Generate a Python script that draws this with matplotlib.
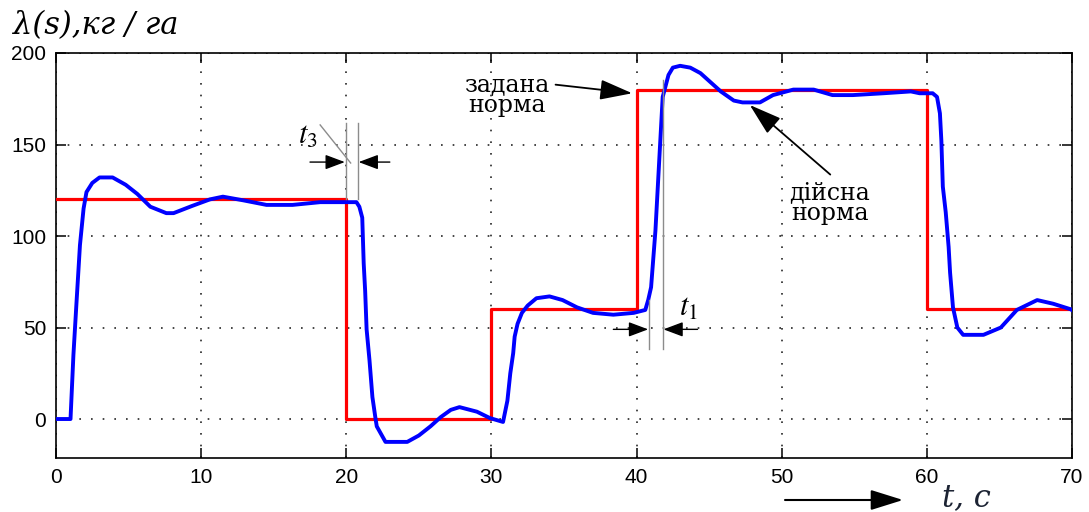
import matplotlib
matplotlib.use("Agg")
import matplotlib.pyplot as plt

# ---- data ----
red_t = [0, 20, 30, 40, 60, 70]
red_v = [120, 0, 60, 180, 60, 60]

blue_t = [0, 1.0, 1.2, 1.4, 1.65, 1.9, 2.1, 2.5, 3.0, 3.9, 4.8, 5.6, 6.5, 7.6, 8.1,
          9.4, 10.6, 11.5, 12.9, 14.5, 16.3, 18.2, 20.7, 20.9, 21.1, 21.2, 21.3, 21.4,
          21.6, 21.8, 22.0, 22.1, 22.7, 24.2, 25.0, 25.8, 26.5, 27.2, 27.8, 29.0, 29.9,
          30.8, 31.1, 31.3, 31.5, 31.6, 31.8, 32.1, 32.5, 33.1, 34.0, 34.9, 35.9, 37.0,
          38.4, 39.8, 40.6, 40.8, 41.0, 41.3, 41.6, 41.8, 42.2, 42.5, 43.0, 43.7, 44.4,
          45.1, 45.8, 46.7, 47.3, 48.5, 49.4, 50.8, 52.2, 53.5, 54.9, 57.0, 58.9, 59.5,
          60.4, 60.7, 60.9, 61.0, 61.1, 61.3, 61.5, 61.6, 61.8, 62.1, 62.5, 63.9, 65.1,
          66.2, 67.6, 68.7, 69.9, 70.0]
blue_v = [0, 0, 35, 62, 95, 115, 124, 129, 132, 132, 128, 123, 116, 112.5, 112.5,
          116.5, 120, 121.5, 119.5, 117, 117, 118.5, 118.5, 116, 110, 85, 70, 49,
          32, 12, 1, -4, -12.5, -12.5, -9, -4, 1, 5, 6.5, 4, 0.5,
          -1.6, 10, 25, 36, 45, 52, 58, 62, 66, 67, 65, 61, 58,
          57, 58, 59.6, 65, 72, 103, 147, 176, 188, 192, 193, 192, 189,
          184, 179, 174, 173, 173, 177, 180, 180, 177, 177, 178, 179, 178,
          178, 176, 167, 152, 127, 113, 94, 80, 61, 50, 46, 46, 50,
          59.6, 65, 63, 60, 59.5]

x_ticks = [0, 10, 20, 30, 40, 50, 60, 70]
y_ticks = [0, 50, 100, 150, 200]

W, H = 1089, 512
fig = plt.figure(figsize=(W / 100, H / 100), dpi=100)
ax = fig.add_axes([56 / W, 1 - 458 / H, (1072 - 56) / W, (458 - 53) / H])

ax.plot(red_t, red_v, color=(1, 0, 0), lw=2.3, drawstyle="steps-post", zorder=3)
ax.plot(blue_t, blue_v, color=(0, 0, 1), lw=2.8, zorder=4)

ax.set_xlim(0, 70)
ax.set_ylim(-21.3, 200)
ax.set_xticks(x_ticks)
ax.set_yticks(y_ticks)
ax.tick_params(direction="in", length=7, width=1.1, top=True, right=True,
               labelsize=15, pad=7)
for lab in ax.get_xticklabels() + ax.get_yticklabels():
    lab.set_fontfamily("Liberation Sans")
for s in ax.spines.values():
    s.set_linewidth(1.2)
ax.grid(True, color="0.15", linestyle=(0, (1, 6)), linewidth=1.2)

gray = "0.55"
serif = "DejaVu Serif"
# t3 marker
ax.plot([19.95, 19.95], [120, 162], color=gray, lw=1, zorder=5)
ax.plot([20.8, 20.8], [120, 162], color=gray, lw=1, zorder=5)
ax.plot([18.2, 20.3], [160.7, 139.9], color=gray, lw=1, zorder=5)
sty = "-|>,head_length=0.8,head_width=0.3"
ax.annotate("", xy=(19.9, 140.4), xytext=(17.5, 140.4),
            arrowprops=dict(arrowstyle=sty, color="k", lw=1, mutation_scale=15,
                            shrinkA=0, shrinkB=0))
ax.annotate("", xy=(20.85, 140.4), xytext=(23.0, 140.4),
            arrowprops=dict(arrowstyle=sty, color="k", lw=1, mutation_scale=15,
                            shrinkA=0, shrinkB=0))
ax.text(16.7, 147, r"$t_3$", fontsize=22, math_fontfamily="stix",
        color="k", ha="left", va="bottom")

# t1 marker
ax.plot([40.85, 40.85], [38, 65], color=gray, lw=1, zorder=5)
ax.plot([41.8, 41.8], [38, 185], color=gray, lw=1, zorder=5)
ax.annotate("", xy=(40.8, 49), xytext=(38.4, 49),
            arrowprops=dict(arrowstyle=sty, color="k", lw=1, mutation_scale=15,
                            shrinkA=0, shrinkB=0))
ax.annotate("", xy=(41.85, 49), xytext=(44.2, 49),
            arrowprops=dict(arrowstyle=sty, color="k", lw=1, mutation_scale=15,
                            shrinkA=0, shrinkB=0))
ax.text(42.9, 53, r"$t_1$", fontsize=22, math_fontfamily="stix",
        ha="left", va="bottom")

# labels with arrows
sty2 = "-|>,head_length=0.8,head_width=0.25"
ax.annotate("задана\nнорма", xy=(39.7, 178), xytext=(31.1, 177),
            ha="center", va="center", fontsize=17, family=serif,
            linespacing=0.9,
            arrowprops=dict(arrowstyle=sty2, color="k", lw=1.3, mutation_scale=25,
                            shrinkA=2, shrinkB=0, relpos=(1.0, 0.75)))
ax.annotate("дійсна\nнорма", xy=(47.8, 171.6), xytext=(53.3, 118),
            ha="center", va="center", fontsize=17, family=serif,
            linespacing=0.9,
            arrowprops=dict(arrowstyle=sty2, color="k", lw=1.3, mutation_scale=25,
                            shrinkA=4, shrinkB=0, relpos=(0.6, 1.0)))

# axis titles
fig.text(13 / W, 1 - 34 / H, "λ(s),кг / га", fontsize=22, family=serif,
         style="italic", ha="left", va="baseline")
fig.text(942 / W, 1 - 506 / H, "t, c", fontsize=22, family=serif,
         style="italic", ha="left", va="baseline", color="#1c2333")
fig.add_artist(matplotlib.patches.FancyArrowPatch(
    (785 / W, 1 - 500 / H), (903 / W, 1 - 500 / H), transform=fig.transFigure,
    arrowstyle="-|>,head_length=0.8,head_width=0.25", mutation_scale=25,
    color="k", lw=1.5, shrinkA=0, shrinkB=0))

fig.savefig("out.png", dpi=100)
